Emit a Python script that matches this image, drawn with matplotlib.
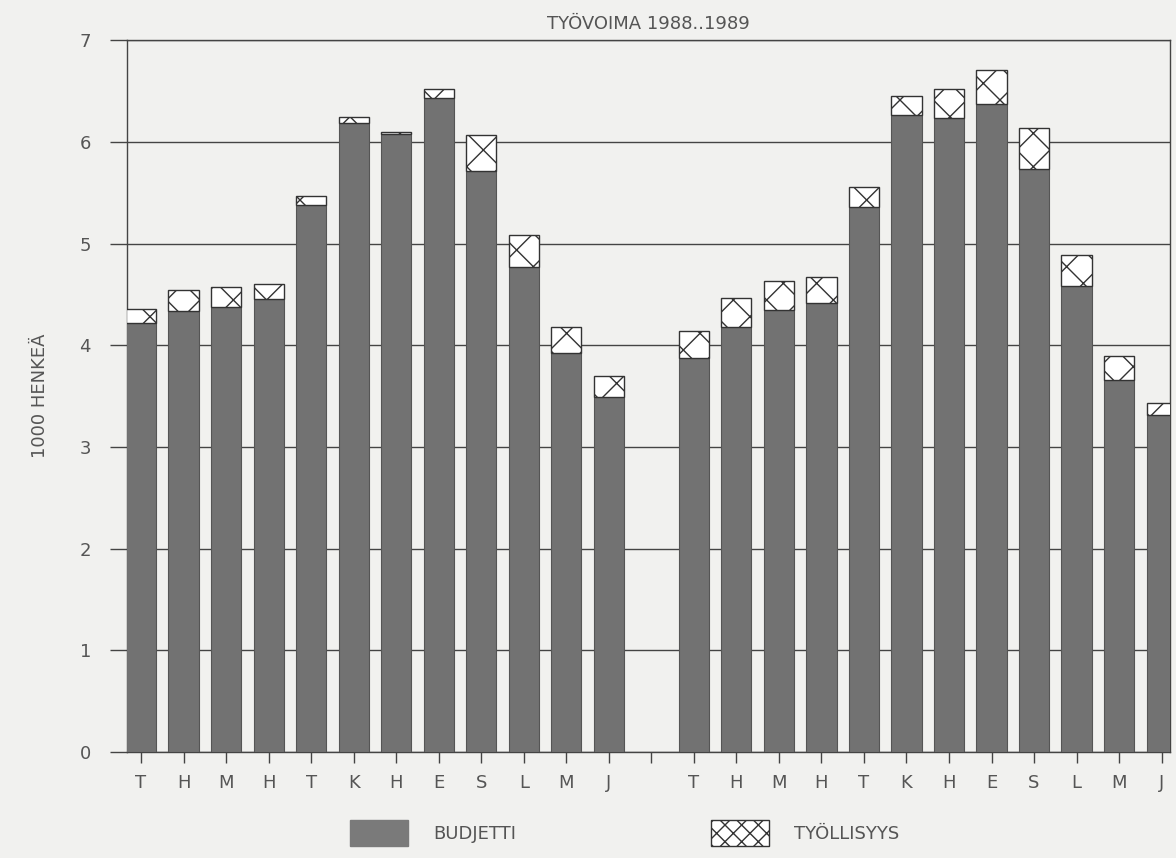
import matplotlib
matplotlib.use("Agg")
import matplotlib.pyplot as plt
import numpy as np
from matplotlib.patches import Patch

months = ["T", "H", "M", "H", "T", "K", "H", "E", "S", "L", "M", "J"]
budjetti_1988 = [4.22, 4.34, 4.38, 4.46, 5.38, 6.19, 6.08, 6.43, 5.71, 4.77, 3.92, 3.49]
total_1988 = [4.36, 4.54, 4.57, 4.60, 5.47, 6.25, 6.10, 6.52, 6.07, 5.09, 4.18, 3.70]
budjetti_1989 = [3.88, 4.18, 4.35, 4.42, 5.36, 6.27, 6.24, 6.37, 5.73, 4.58, 3.66, 3.31]
total_1989 = [4.14, 4.47, 4.63, 4.67, 5.56, 6.45, 6.52, 6.71, 6.14, 4.89, 3.90, 3.43]
yticks = [0, 1, 2, 3, 4, 5, 6, 7]

bud = budjetti_1988 + [np.nan] + budjetti_1989
tot = total_1988 + [np.nan] + total_1989
tyo = [t - b for t, b in zip(tot, bud)]
labels = months + [""] + months
x = np.arange(len(bud))

bg = "#f1f1ef"
txt = "#555555"
fig = plt.figure(figsize=(11.76, 8.58), dpi=100, facecolor=bg)
ax = fig.add_axes([0.108, 0.1235, 0.887, 0.8295], facecolor=bg)

ax.bar(x, bud, width=0.71, color="#727272", edgecolor="#555555", linewidth=0.8, zorder=3)
ax.bar(x, tyo, bottom=bud, width=0.71, color="white", edgecolor="#333333",
       hatch="x", linewidth=1.0, zorder=3)

ax.set_xlim(-0.33, 24.2)
ax.set_ylim(0, 7)
ax.set_yticks(yticks)
ax.set_yticklabels([str(v) for v in yticks], fontsize=13, color=txt)
ax.set_xticks(x)
ax.set_xticklabels(labels, fontsize=13, color=txt)
ax.tick_params(axis="y", length=12, width=1, color="#444444", pad=14)
ax.tick_params(axis="x", length=8, width=1, color="#444444", pad=8)
ax.grid(axis="y", color="#444444", linewidth=1.0, zorder=0)
for s in ["top", "right", "left", "bottom"]:
    ax.spines[s].set_color("#444444")
    ax.spines[s].set_linewidth(1.0)

ax.set_title("TYÖVOIMA 1988..1989", fontsize=13, color=txt, pad=8)
ax.set_ylabel("1000 HENKEÄ", fontsize=13, color=txt, labelpad=22)

handles = [Patch(facecolor="#7a7a7a", edgecolor="#7a7a7a", label="BUDJETTI"),
           Patch(facecolor="white", edgecolor="#333333", hatch="xx", label="TYÖLLISYYS")]
leg = fig.legend(handles=handles, loc="lower center", ncol=2, frameon=False,
                 bbox_to_anchor=(0.531, -0.005), fontsize=13, handlelength=3.2, handleheight=1.8,
                 handletextpad=1.4, columnspacing=10.8, labelcolor=txt)

fig.savefig("out.png", dpi=100, facecolor=bg)
